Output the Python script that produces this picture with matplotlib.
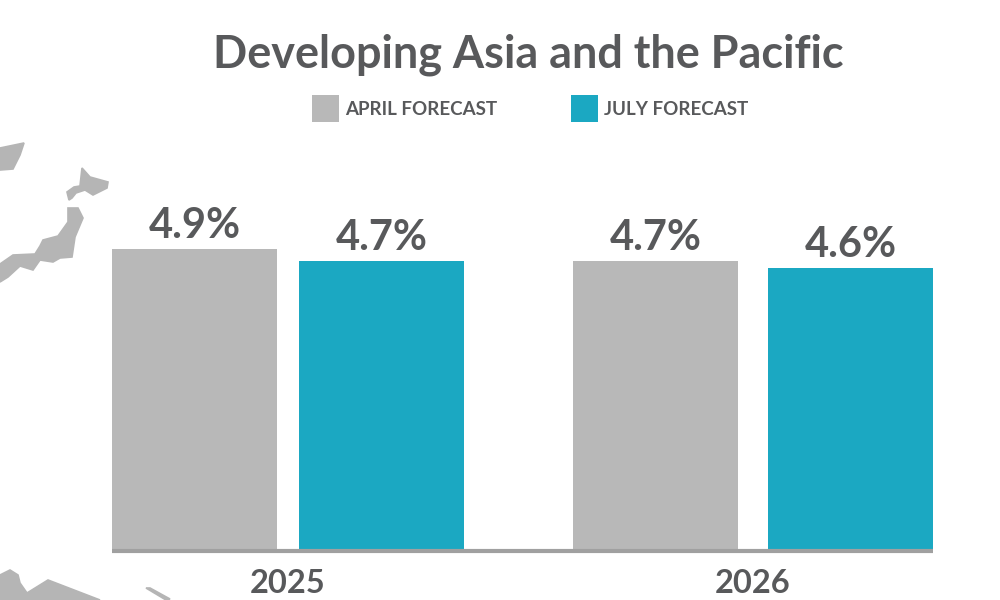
import matplotlib
matplotlib.use('Agg')
import matplotlib.pyplot as plt

years = ['2025', '2026']
april = [4.9, 4.7]
july = [4.7, 4.6]
april_labels = ['4.9%', '4.7%']
july_labels = ['4.7%', '4.6%']

# decorative map scraps in the background, in image pixels
map_shapes = [
    [(0, 148), (24, 143), (20, 155), (13, 169), (0, 170)],
    [(82, 168), (90, 177), (108, 182), (107, 188), (93, 195), (85, 190), (76, 193), (72, 198), (69, 200), (67, 192), (74, 187), (80, 186)],
    [(68, 208), (78, 208), (83, 218), (75, 237), (72, 257), (60, 258), (53, 262), (40, 260), (33, 270), (20, 266), (8, 277), (0, 282), (0, 264), (13, 255), (35, 254), (40, 246), (43, 240), (58, 236), (68, 222)],
    [(0, 575), (10, 570), (18, 575), (20, 583), (27, 593), (48, 580), (100, 600), (0, 600)],
    [(146, 588), (150, 588), (170, 599), (166, 600)],
]

GREY = '#b8b8b8'
TEAL = '#1ba8c2'
TEXT = '#58595b'

plt.rcParams['font.family'] = ['Lato', 'DejaVu Sans']

fig = plt.figure(figsize=(10, 6), dpi=100)

# full figure axes for the map
bg = fig.add_axes([0, 0, 1, 1])
bg.set_xlim(0, 1000)
bg.set_ylim(600, 0)
bg.axis('off')
for shape in map_shapes:
    bg.fill([p[0] for p in shape], [p[1] for p in shape], color='#b5b5b5', lw=1.2)

# axes left/right at the outer bar edges, bottom at baseline
ax = fig.add_axes([0.112, (600 - 551) / 600, 0.821, 0.55])
ax.patch.set_alpha(0)
unit = 465
centers = [0, 1]
offsets = [93.5 / unit, 97.5 / unit]
width = 165 / unit
for i in centers:
    ax.bar(i - offsets[i], april[i], width, color=GREY)
    ax.bar(i + offsets[i], july[i], width, color=TEAL)
    ax.text(i - offsets[i], april[i] + 0.065, april_labels[i], ha='center', va='bottom',
            fontsize=30, fontweight='bold', color=TEXT)
    ax.text(i + offsets[i], july[i] + 0.065, july_labels[i], ha='center', va='bottom',
            fontsize=30, fontweight='bold', color=TEXT)

ax.set_xlim(-(288 - 112) / unit, (933 - 288) / unit)
ax.set_ylim(0, 330 / 61.6)
ax.set_yticks([])
ax.set_xticks(centers)
ax.set_xticklabels(years, fontsize=23.5, fontweight='bold', color=TEXT)
ax.tick_params(axis='x', length=0, pad=13)
for side in ['top', 'left', 'right']:
    ax.spines[side].set_visible(False)
ax.spines['bottom'].set_color('#a0a0a0')
ax.spines['bottom'].set_linewidth(3)
ax.spines['bottom'].set_capstyle('butt')

fig.text(0.5285, 0.908, 'Developing Asia and the Pacific', ha='center', va='center',
         fontsize=32.4, fontweight='bold', color=TEXT)

# legend placed by hand, keeps the swatch spacing of the original
for x, col, label in [(312, GREY, 'APRIL FORECAST'), (571, TEAL, 'JULY FORECAST')]:
    bg.fill([x, x + 27, x + 27, x], [95, 95, 122, 122], color=col, lw=0)
    bg.text(x + 33, 109.5, label, ha='left', va='center', fontsize=13.5, fontweight='bold', color=TEXT)

plt.savefig('out.png', dpi=100)
plt.close('all')
